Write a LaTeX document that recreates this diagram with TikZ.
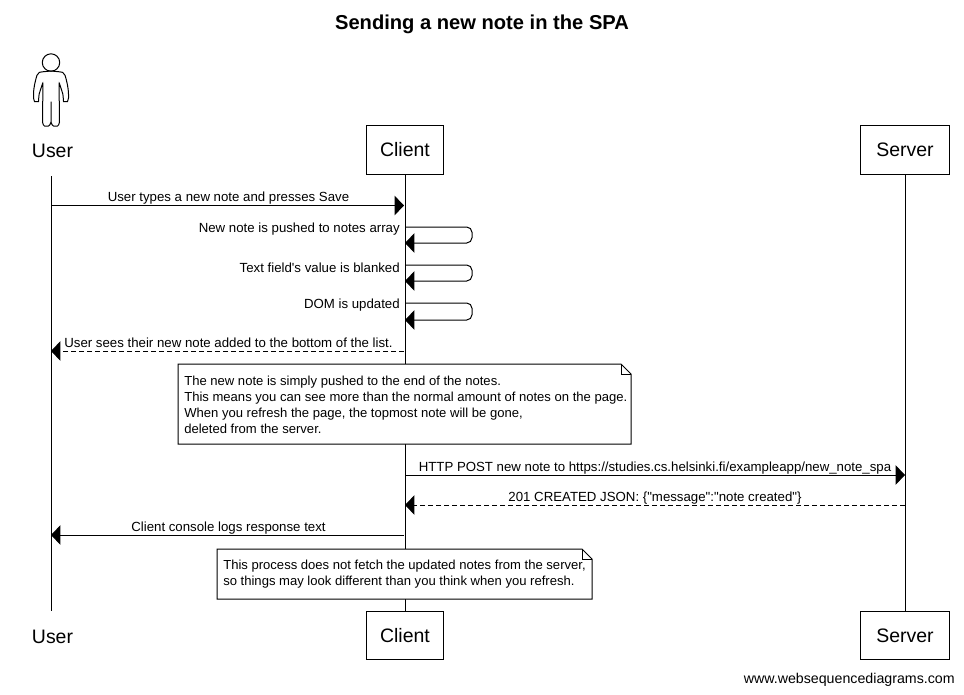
\documentclass[tikz,border=0pt]{standalone}
\usepackage{fontspec}
\setmainfont{Liberation Sans}[Ligatures=TeXOff]
\usetikzlibrary{arrows.meta}

\tikzset{
    actorbox/.style={draw,line width=0.75pt,fill=white,minimum height=36.4pt,inner sep=0pt,font=\fontsize{14.6}{18}\selectfont},
    actorname/.style={inner sep=0pt,font=\fontsize{14.6}{18}\selectfont},
    msglabel/.style={inner sep=0pt,font=\fontsize{9.93}{12}\selectfont},
    notetext/.style={inner sep=0pt,anchor=west,align=left,font=\fontsize{9.8}{12}\selectfont},
    msg/.style={line width=0.75pt,-{Triangle[length=7pt,width=14.5pt]}},
    reply/.style={msg,dash pattern=on 3.75pt off 2.25pt},
    lifeline/.style={line width=0.75pt},
    notebox/.style={draw,line width=0.75pt,fill=white}
}

\begin{document}
\begin{tikzpicture}[x=0.75pt,y=-0.75pt]
    \useasboundingbox[fill=white] (0,0) rectangle (964,694);
    \node[font=\bfseries\fontsize{15.1}{18}\selectfont,inner sep=0pt] (title) at (482,24) {Sending a new note in the SPA};
    \node[actorname] (userTop) at (52.5,150.5) {User};
    \node[actorname] (userBot) at (52.5,636.5) {User};
    \coordinate (userStart) at (51,176);
    \coordinate (userEnd) at (51,611);
    \node[actorbox,minimum width=58pt] (clientTop) at (405,150) {Client};
    \node[actorbox,minimum width=58pt] (clientBot) at (405,635.7) {Client};
    \node[actorbox,minimum width=66.75pt] (serverTop) at (905,150) {Server};
    \node[actorbox,minimum width=66.75pt] (serverBot) at (905,635.7) {Server};
    \draw[lifeline] (userStart) -- (userEnd);
    \draw[lifeline] (clientTop) -- (clientBot);
    \draw[lifeline] (serverTop) -- (serverBot);
    % stick figure
    \draw[line width=0.75pt] (51,62.5) circle (8.7);
    \draw[line width=0.75pt,rounded corners=1.5pt] (51,71) .. controls (45,71.5) and (40,72) .. (37.5,73.5)
        .. controls (35.5,80) and (33.5,88) .. (33.5,96) .. controls (33.5,100) and (35,101.5) .. (36.5,101.5)
        .. controls (38,101.5) and (39,100) .. (38.5,96) -- (43,82) -- (42.5,120)
        .. controls (42.5,124) and (44,126) .. (46.5,126) .. controls (49,126) and (51,124) .. (51,120) -- (51,100.5)
        -- (51,120) .. controls (51,124) and (53,126) .. (55.5,126) .. controls (58,126) and (59.5,124) .. (59.5,120)
        -- (59,82) -- (63.5,96) .. controls (63,100) and (64,101.5) .. (65.5,101.5) .. controls (67,101.5) and (68.5,100) .. (68.5,96)
        .. controls (68.5,88) and (66.5,80) .. (64.5,73.5) .. controls (62,72) and (57,71.5) .. (51,71);
    % messages
    \coordinate (m1a) at (51,205.5);
    \coordinate (m1b) at (404,205.5);
    \draw[msg] (m1a) -- node[msglabel,above=0.8pt,xshift=0.75pt] (m1) {User types a new note and presses Save} (m1b);
    \foreach \nm/\ya/\yb/\txt in {a/227/243/New note is pushed to notes array,b/265/281/Text field's value is blanked,c/303/320/DOM is updated}{
        \coordinate (s\nm a) at (405,\ya);
        \coordinate (s\nm b) at (405,\yb);
        \node[msglabel,anchor=east] (s\nm) at (400,\ya+2.5) {\txt};
        \draw[msg,rounded corners=4pt] (s\nm a) -- (472,\ya) -- (472,\yb) -- (s\nm b);
    }
    \coordinate (m2a) at (404,351);
    \coordinate (m2b) at (51,351);
    \draw[reply] (m2a) -- node[msglabel,above=2pt,xshift=0.75pt] (m2) {User sees their new note added to the bottom of the list.} (m2b);
    \coordinate (m3a) at (405,475);
    \coordinate (m3b) at (905,475);
    \draw[msg] (m3a) -- node[msglabel,above=0.5pt] (m3) {HTTP POST new note to https://studies.cs.helsinki.fi/exampleapp/new\_note\_spa} (m3b);
    \coordinate (m4a) at (905,505);
    \coordinate (m4b) at (405,505);
    \draw[reply] (m4a) -- node[msglabel,above=0.3pt] (m4) {201 CREATED JSON: \{"message":"note created"\}} (m4b);
    \coordinate (m5a) at (404,535);
    \coordinate (m5b) at (51,535);
    \draw[msg] (m5a) -- node[msglabel,above=0.5pt,xshift=0.75pt] (m5) {Client console logs response text} (m5b);
    % notes
    \draw[notebox] (178,364) -- (621,364) -- (631,374) -- (631,444) -- (178,444) -- cycle;
    \draw[line width=0.75pt] (621,364) -- (621,374) -- (631,374);
    \node[notetext] (note1) at (184,405) {The new note is simply pushed to the end of the notes.\\[0pt]This means you can see more than the normal amount of notes on the page.\\[0pt]When you refresh the page, the topmost note will be gone,\\[0pt]deleted from the server.};
    \draw[notebox] (217,549) -- (582,549) -- (592,559) -- (592,599) -- (217,599) -- cycle;
    \draw[line width=0.75pt] (582,549) -- (582,559) -- (592,559);
    \node[notetext] (note2) at (223,574.5) {This process does not fetch the updated notes from the server,\\[0pt]so things may look different than you think when you refresh.};
    \node[inner sep=0pt,anchor=east,font=\fontsize{10.66}{12}\selectfont] (site) at (955,680) {www.websequencediagrams.com};
\end{tikzpicture}
\end{document}
